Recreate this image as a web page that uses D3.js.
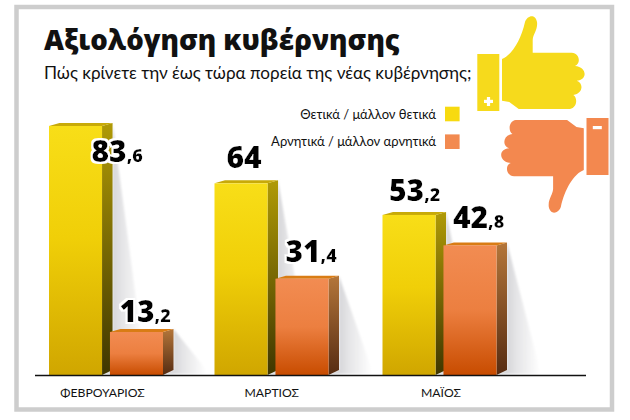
<!DOCTYPE html>
<html lang="el">
<head>
<meta charset="utf-8">
<script src="https://cdn.jsdelivr.net/npm/d3@7"></script>
<style>
  html, body { margin: 0; padding: 0; background: #fff; }
  svg { display: block; }
  text { font-family: "Open Sans", "Noto Sans", sans-serif; fill: #111; }
  .body-text { font-family: Lato, "Open Sans", sans-serif; }
</style>
</head>
<body>
<svg id="chart" width="630" height="420"></svg>
<script>
// Survey results by month
const months = ["ΦΕΒΡΟΥΑΡΙΟΣ", "ΜΑΡΤΙΟΣ", "ΜΑΪΟΣ"];
const seriesNames = ["Θετικά / μάλλον θετικά", "Αρνητικά / μάλλον αρνητικά"];
const positive = [83.6, 64, 53.2];
const negative = [13.2, 31.4, 42.8];
const titleText = "Αξιολόγηση κυβέρνησης";
const subtitleText = "Πώς κρίνετε την έως τώρα πορεία της νέας κυβέρνησης;";

const svg = d3.select("#chart");
const defs = svg.append("defs");
const baseY = 375;

// Vertical gradients shared by every bar of a series
function verticalGradient(id, stops) {
  const g = defs.append("linearGradient").attr("id", id)
    .attr("x1", 0).attr("y1", 0).attr("x2", 0).attr("y2", 1);
  stops.forEach(([o, c]) => g.append("stop").attr("offset", o).attr("stop-color", c));
}
verticalGradient("faceA", [[0, "#f8de18"], [0.45, "#f0cf08"], [1, "#d0a600"]]);
verticalGradient("faceB", [[0, "#f28c52"], [0.5, "#ec7f40"], [1, "#c84c00"]]);
verticalGradient("sideA", [[0, "#b09a06"], [1, "#3f3600"]]);
verticalGradient("sideB", [[0, "#b4763a"], [1, "#562c12"]]);

const shadowGrad = defs.append("linearGradient").attr("id", "castShadow")
  .attr("x1", 0).attr("y1", 0).attr("x2", 1).attr("y2", 0);
[[0, "#c6c6ca"], [0.45, "#e4e4e6"], [1, "#ffffff"]].forEach(([o, c]) =>
  shadowGrad.append("stop").attr("offset", o).attr("stop-color", c));
defs.append("filter").attr("id", "soft").attr("x", "-20%").attr("width", "140%")
  .append("feGaussianBlur").attr("stdDeviation", 0.8);

// Value labels get a slightly fattened glyph over a white halo
const halo = defs.append("filter").attr("id", "halo")
  .attr("x", "-20%").attr("y", "-30%").attr("width", "140%").attr("height", "160%");
halo.append("feMorphology").attr("in", "SourceAlpha").attr("operator", "dilate").attr("radius", 2.4).attr("result", "wide");
halo.append("feGaussianBlur").attr("in", "wide").attr("stdDeviation", 0.5).attr("result", "wideSoft");
halo.append("feFlood").attr("flood-color", "#fff").attr("result", "white");
halo.append("feComposite").attr("in", "white").attr("in2", "wideSoft").attr("operator", "in").attr("result", "ring");
halo.append("feMorphology").attr("in", "SourceGraphic").attr("operator", "dilate").attr("radius", 0.3).attr("result", "heavy");
const haloMerge = halo.append("feMerge");
haloMerge.append("feMergeNode").attr("in", "ring");
haloMerge.append("feMergeNode").attr("in", "heavy");

// Outer frame
svg.append("rect").attr("x", 16.5).attr("y", 7).attr("width", 595.5).attr("height", 402.5)
  .attr("fill", "#fff").attr("stroke", "#cdcdcd").attr("stroke-width", 4.5);

// Heading
svg.append("text").attr("x", 44).attr("y", 50).attr("font-size", 27.6)
  .attr("font-weight", 800).attr("fill", "#000").text(titleText);
svg.append("text").attr("class", "body-text").attr("x", 44).attr("y", 79).attr("font-size", 17.1)
  .attr("font-weight", 400).text(subtitleText);

// Scales
const x0 = d3.scaleOrdinal().domain(months).range([49, 214.5, 382.5]);
const x1 = d3.scaleBand().domain([0, 1]).range([0, 114]).padding(0).paddingInner(0.13);
const y = d3.scaleLinear().domain([-1.5, 83.6]).range([baseY, 126]);
const xLabel = d3.scalePoint().domain(months).range([102.5, 441]);

const depthX = 10.5, capRise = 3, sideRise = 5, shadowW = 33;
const bars = months.flatMap((m, i) => [
  { month: m, series: 0, value: positive[i], key: "A" },
  { month: m, series: 1, value: negative[i], key: "B" }
]).map(d => ({
  ...d,
  x: x0(d.month) + x1(d.series),
  w: x1.bandwidth(),
  top: y(d.value)
}));
const pts = a => a.map(p => p.join(",")).join(" ");

// Cast shadows sit under all the bars
svg.append("g").attr("filter", "url(#soft)").selectAll("polygon").data(bars).join("polygon")
  .attr("fill", "url(#castShadow)")
  .attr("points", d => {
    const r = d.x + d.w + depthX;
    return pts([[r, d.top - capRise], [r + shadowW, baseY - 5], [r + shadowW, baseY - 1], [r - depthX, baseY - 1], [r, baseY - sideRise]]);
  });

// Bars: front face, top cap and receding side
const barG = svg.append("g").selectAll("g").data(bars).join("g");
barG.append("polygon")
  .attr("fill", d => `url(#side${d.key})`)
  .attr("points", d => {
    const r = d.x + d.w;
    return pts([[r, d.top], [r + depthX, d.top - capRise], [r + depthX, baseY - sideRise], [r, baseY]]);
  });
barG.append("polygon")
  .attr("fill", d => d.key === "A" ? "#c8aa08" : "#d97c14")
  .attr("points", d => pts([[d.x, d.top], [d.x + depthX, d.top - capRise], [d.x + d.w + depthX, d.top - capRise], [d.x + d.w, d.top]]));
barG.append("rect")
  .attr("x", d => d.x).attr("y", d => d.top)
  .attr("width", d => d.w).attr("height", d => baseY - d.top)
  .attr("fill", d => `url(#face${d.key})`);

// Baseline and month labels
svg.append("line").attr("x1", 35).attr("x2", 586).attr("y1", baseY + 0.5).attr("y2", baseY + 0.5)
  .attr("stroke", "#111").attr("stroke-width", 1.3);
svg.append("g").selectAll("text").data(months).join("text")
  .attr("class", "body-text")
  .attr("x", m => xLabel(m)).attr("y", 397)
  .attr("text-anchor", "middle").attr("font-size", 12.2).attr("fill", "#222")
  .text(m => m);

// Value labels: large integer part, smaller decimal part
const labelShift = { "83.6": [42.5, 36], "13.2": [9.5, -10], "64": [12, -15], "31.4": [10, -17], "53.2": [6.5, -14], "42.8": [9.5, -17] };
const valueLabels = svg.append("g").selectAll("text").data(bars).join("text")
  .attr("x", d => d.x + labelShift[d.value][0])
  .attr("y", d => d.top + labelShift[d.value][1])
  .attr("font-weight", 800).style("fill", "#000")
  .attr("filter", "url(#halo)");
valueLabels.each(function (d) {
  const [whole, frac] = String(d.value).split(".");
  const t = d3.select(this);
  t.append("tspan").attr("font-size", 30).text(whole);
  if (frac) t.append("tspan").attr("font-size", 18).text("," + frac);
});

// Legend
const legendY = [114, 141.7];
const legendColors = ["#f7da10", "#f28a50"];
const legend = svg.append("g").selectAll("g").data(seriesNames).join("g");
legend.append("text").attr("class", "body-text").attr("x", 436).attr("y", (d, i) => legendY[i] + 4.5)
  .attr("text-anchor", "end").attr("font-size", 13).attr("fill", "#222").text(d => d);
legend.append("rect").attr("x", 445).attr("y", (d, i) => legendY[i] - 7.3)
  .attr("width", 14.6).attr("height", 14.6).attr("fill", (d, i) => legendColors[i]);

// Thumb icons: the same hand drawn twice, the second one turned upside down
const handPath = "M502,59 C512,55 521,40 525,22 C527,16 535,13 537,22 C538,30 533,34 532.7,40 L532.7,52.7 L571.7,52.7 C580,53 581,64 575,66 C587,67 588,80 576.7,80.7 C584,83 583,94 573.3,95 C578,98 577,108 570,109 L518.7,109 L509.3,102 L502,100.7 Z";
function thumb(color, flipped, mark) {
  const g = svg.append("g").attr("fill", color)
    .attr("transform", flipped ? "rotate(180 542.9 114.5)" : null);
  g.append("path").attr("d", handPath);
  g.append("rect").attr("x", 477.3).attr("y", 54).attr("width", 22).attr("height", 57);
  const m = g.append("g").attr("fill", "#fff");
  m.append("rect").attr("x", 484).attr("y", 99.8).attr("width", 9).attr("height", 3.2);
  if (mark === "+") m.append("rect").attr("x", 486.9).attr("y", 97).attr("width", 3.2).attr("height", 9);
}
thumb("#f6da1c", false, "+");
thumb("#f3884f", true, "-");
</script>
</body>
</html>
